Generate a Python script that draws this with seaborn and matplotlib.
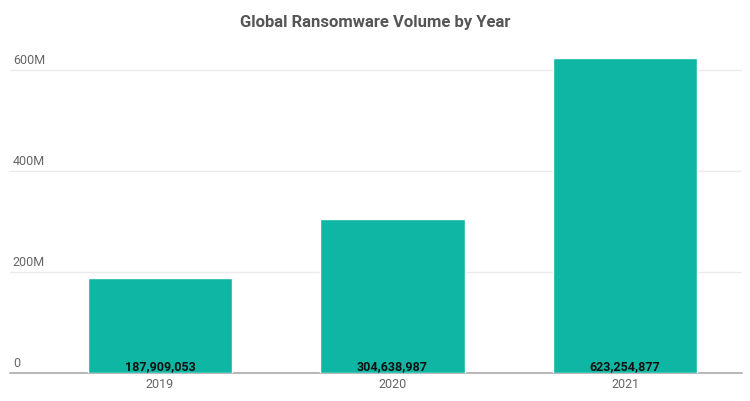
import matplotlib
matplotlib.use("Agg")
import matplotlib.pyplot as plt
import seaborn as sns
import pandas as pd

years = ["2019", "2020", "2021"]
volumes = [187909053, 304638987, 623254877]
ytick_values = [0, 200e6, 400e6, 600e6]
ytick_labels = ["0", "200M", "400M", "600M"]
title = "Global Ransomware Volume by Year"

sns.set_theme(style="white")
plt.rcParams['font.family'] = ['Roboto', 'DejaVu Sans']

df = pd.DataFrame({"year": years, "volume": volumes})

fig = plt.figure(figsize=(7.5, 4.02), dpi=100)
ax = fig.add_axes([10/750, (402-374)/402, (742-10)/750, (374-40)/402])

sns.barplot(data=df, x="year", y="volume", color="#0FB6A4", width=0.62,
            saturation=1, ax=ax, zorder=3)

ax.set_xlim(-0.645, 2.503)
ax.set_ylim(0, 661e6)
ax.set_yticks(ytick_values)
ax.set_yticklabels([])
ax.tick_params(axis="y", length=0)
for v, lab in zip(ytick_values, ytick_labels):
    if v > 0:
        ax.axhline(v, color="#EBEBEB", lw=1, zorder=1)
    ax.annotate(lab, xy=(0, v), xycoords=("axes fraction", "data"),
                xytext=(2, 3), textcoords="offset points",
                ha="left", va="bottom", fontsize=9, color="#666666")

ax.set_xlabel("")
ax.set_ylabel("")
ax.tick_params(axis="x", length=0, pad=3, labelsize=9, labelcolor="#666666")
for s in ["top", "right", "left"]:
    ax.spines[s].set_visible(False)
ax.spines["bottom"].set_color("#AAAAAA")
ax.spines["bottom"].set_linewidth(1.2)

for i, v in enumerate(volumes):
    ax.annotate(f"{v:,}", xy=(i, 0), xytext=(0, 1), textcoords="offset points",
                ha="center", va="bottom", fontsize=9,
                fontweight="bold", color="#111111", zorder=4)

fig.text(0.5, 1 - 22/402, title, ha="center", va="center",
         fontsize=12, fontweight="bold", color="#555555")

fig.savefig("out.png", dpi=100)
